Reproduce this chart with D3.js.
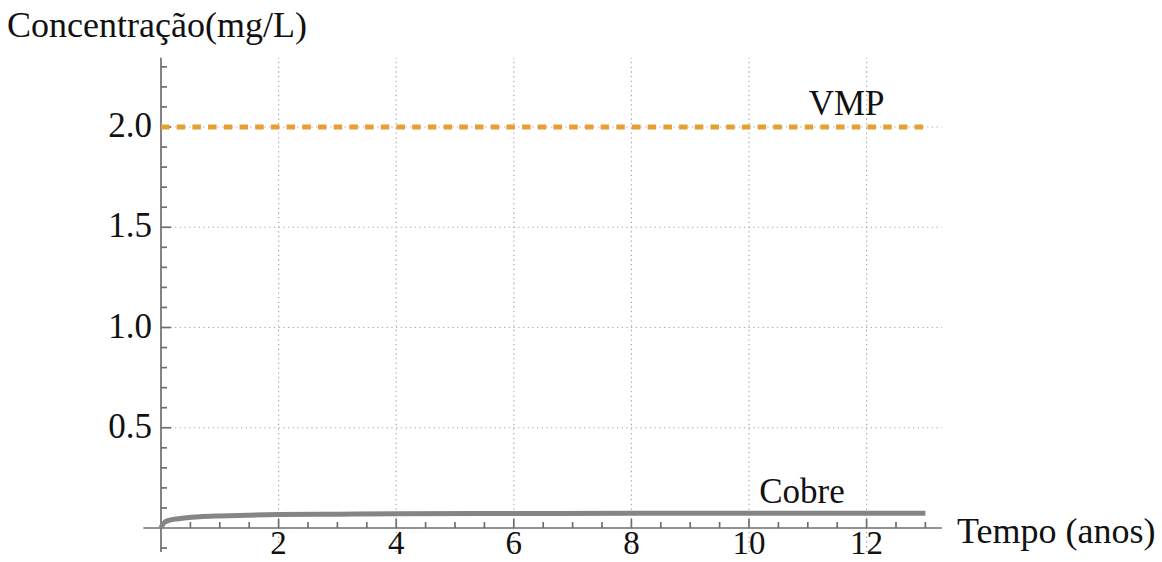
<!DOCTYPE html>
<html>
<head>
<meta charset="utf-8">
<script src="https://cdn.jsdelivr.net/npm/d3@7"></script>
<style>
  html, body { margin: 0; padding: 0; background: #fff; }
  svg { display: block; }
  text { font-family: "Liberation Serif", "Times New Roman", serif; fill: #111; }
</style>
</head>
<body>
<script>
// ---- data ----
const timeYears = [0, 0.03, 0.07, 0.15, 0.25, 0.4, 0.66, 1, 1.5, 2, 3, 4, 6, 8, 10, 13];
const cobreValues = [0, 0.018, 0.03, 0.039, 0.045, 0.05, 0.056, 0.060, 0.064, 0.067, 0.069, 0.071, 0.072, 0.073, 0.073, 0.073];
const vmpTime = [0, 13];
const vmpValues = [2.0, 2.0];
const xMajorTicks = [2, 4, 6, 8, 10, 12];
const xTickLabels = ["2", "4", "6", "8", "10", "12"];
const yMajorTicks = [0.5, 1.0, 1.5, 2.0];
const yTickLabels = ["0.5", "1.0", "1.5", "2.0"];
const seriesNames = ["VMP", "Cobre"];
const axisTitles = ["Tempo (anos)", "Concentração(mg/L)"];

// ---- layout ----
const W = 1162, H = 562;
const svg = d3.select("body").append("svg").attr("width", W).attr("height", H);

const x = d3.scaleLinear().domain([0, 13]).range([161, 925.4]);
const y = d3.scaleLinear().domain([0, 2]).range([528, 127]);
const xMin = -0.3, xMax = 13.28, yMin = -0.12, yMax = 2.345;

// gridlines
const grid = svg.append("g").attr("stroke", "#a8a8a8").attr("stroke-width", 1.2)
  .attr("stroke-dasharray", "1.3,3.4").attr("fill", "none");
grid.selectAll("line.v").data(xMajorTicks).join("line").attr("class", "v")
  .attr("x1", d => x(d)).attr("x2", d => x(d)).attr("y1", y(yMin)).attr("y2", y(yMax));
grid.selectAll("line.h").data(yMajorTicks).join("line").attr("class", "h")
  .attr("x1", x(0)).attr("x2", x(xMax)).attr("y1", d => y(d)).attr("y2", d => y(d));

// axes
const axisColor = "#6e6e6e";
const ax = svg.append("g").attr("stroke", axisColor).attr("stroke-width", 1.7);
ax.append("line").attr("x1", x(xMin)).attr("x2", x(xMax)).attr("y1", y(0)).attr("y2", y(0));
ax.append("line").attr("x1", x(0)).attr("x2", x(0)).attr("y1", y(yMin)).attr("y2", y(yMax));

const xMinor = d3.range(0.5, 13.01, 0.5).filter(v => !xMajorTicks.includes(v));
const yMinor = d3.range(-1, 24).map(i => +(i / 10).toFixed(1)).filter(v => v !== 0 && !yMajorTicks.includes(v));

ax.selectAll("line.xt").data(xMajorTicks).join("line")
  .attr("x1", d => x(d)).attr("x2", d => x(d)).attr("y1", y(0)).attr("y2", y(0) - 9);
ax.selectAll("line.xm").data(xMinor).join("line")
  .attr("x1", d => x(d)).attr("x2", d => x(d)).attr("y1", y(0)).attr("y2", y(0) - 6);
ax.selectAll("line.yt").data(yMajorTicks).join("line")
  .attr("x1", x(0)).attr("x2", x(0) + 10).attr("y1", d => y(d)).attr("y2", d => y(d));
ax.selectAll("line.ym").data(yMinor).join("line")
  .attr("x1", x(0)).attr("x2", x(0) + 6).attr("y1", d => y(d)).attr("y2", d => y(d));

// tick labels
svg.selectAll("text.xl").data(xMajorTicks).join("text")
  .attr("x", d => x(d)).attr("y", 554).attr("text-anchor", "middle")
  .attr("font-size", 33).text((d, i) => xTickLabels[i]);
svg.selectAll("text.yl").data(yMajorTicks).join("text")
  .attr("x", x(0) - 9).attr("y", d => y(d) + 10).attr("text-anchor", "end")
  .attr("font-size", 35).text((d, i) => yTickLabels[i]);

// series
const line = d3.line().x(d => x(d[0])).y(d => y(d[1]));
svg.append("path").datum(vmpTime.map((t, i) => [t, vmpValues[i]]))
  .attr("d", line).attr("fill", "none").attr("stroke", "#E5A030")
  .attr("stroke-width", 5).attr("stroke-dasharray", "8.5,7.2");

svg.append("path").datum(timeYears.map((t, i) => [t, cobreValues[i]]))
  .attr("d", line.curve(d3.curveMonotoneX)).attr("fill", "none").attr("stroke", "#858585")
  .attr("stroke-width", 5);

// series labels
svg.append("text").attr("x", x(11.66)).attr("y", y(2.0) - 12).attr("text-anchor", "middle")
  .attr("font-size", 35).text(seriesNames[0]);
svg.append("text").attr("x", x(10.9)).attr("y", y(0.073) - 10).attr("text-anchor", "middle")
  .attr("font-size", 35).text(seriesNames[1]);

// axis titles
svg.append("text").attr("x", 957).attr("y", 543).attr("font-size", 36).text(axisTitles[0]);
svg.append("text").attr("x", 7).attr("y", 37).attr("font-size", 36).text(axisTitles[1]);
</script>
</body>
</html>
